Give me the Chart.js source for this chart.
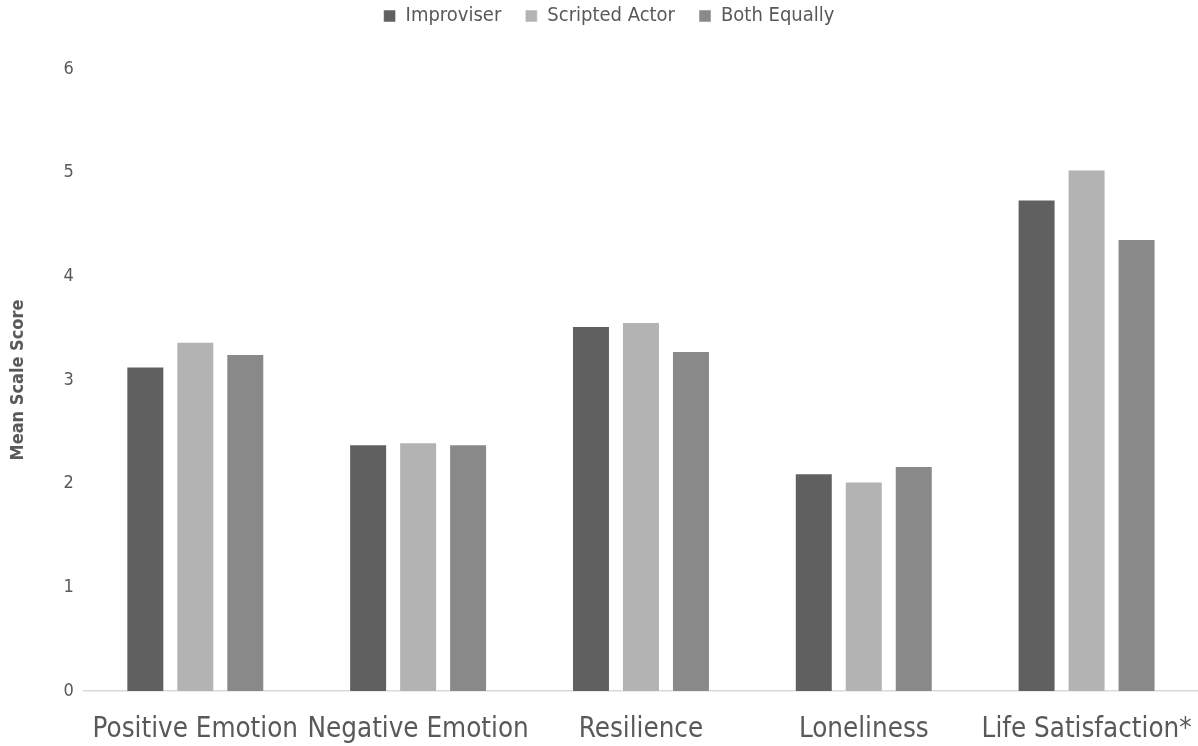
<!DOCTYPE html>
<html>
<head>
<meta charset="utf-8">
<script src="https://cdn.jsdelivr.net/npm/chart.js@4/dist/chart.umd.min.js"></script>
<style>
  html, body { margin: 0; padding: 0; background: #ffffff; }
  #wrap { width: 1198px; height: 746px; position: relative; }
</style>
</head>
<body>
<div id="wrap"><canvas id="chart" width="1198" height="746"></canvas></div>
<script>
// Mean scale scores by performer type
const categories = ["Positive Emotion", "Negative Emotion", "Resilience", "Loneliness", "Life Satisfaction*"];
const improviser = [3.13, 2.38, 3.52, 2.10, 4.74];
const scriptedActor = [3.37, 2.40, 3.56, 2.02, 5.03];
const bothEqually = [3.25, 2.38, 3.28, 2.17, 4.36];
const seriesNames = ["Improviser", "Scripted Actor", "Both Equally"];
const yTicks = [0, 1, 2, 3, 4, 5, 6];

const colors = ["#606060", "#b3b3b3", "#898989"];
const values = [improviser, scriptedActor, bothEqually];
const FONT = "'Liberation Sans Narrow', 'DejaVu Sans Condensed', 'Open Sans', sans-serif";

const datasets = seriesNames.map((name, i) => ({
  label: name,
  data: values[i],
  backgroundColor: colors[i],
  borderColor: "rgba(255,255,255,0.5)",
  borderWidth: 1,
  categoryPercentage: 0.673,
  barPercentage: 0.76
}));

// Leave extra room between the legend and the plot area
const legendGap = {
  id: "legendGap",
  beforeInit(chart) {
    const fit = chart.legend.fit;
    chart.legend.fit = function () {
      fit.call(this);
      this.height += 33;
    };
  }
};

new Chart(document.getElementById("chart"), {
  type: "bar",
  data: { labels: categories, datasets },
  plugins: [legendGap],
  options: {
    responsive: false,
    animation: false,
    layout: { padding: { top: -18, right: -20, left: 0, bottom: -22 } },
    plugins: {
      legend: {
        position: "top",
        labels: {
          boxWidth: 12,
          boxHeight: 12,
          padding: 24,
          color: "#595959",
          font: { family: FONT, size: 20 }
        }
      },
      tooltip: { enabled: false }
    },
    scales: {
      x: {
        // let the plot run to the right edge; the last label still fits its slot
        afterFit: (scale) => { scale.paddingRight = 0; scale.paddingLeft = 0; },
        grid: { display: false, drawTicks: false },
        border: { display: true, color: "#d9d9d9", width: 1.5 },
        ticks: {
          color: "#595959",
          padding: 22,
          maxRotation: 0,
          autoSkip: false,
          font: { family: FONT, size: 27.5 }
        }
      },
      y: {
        min: 0,
        max: 6,
        afterBuildTicks: (axis) => { axis.ticks = yTicks.map(v => ({ value: v })); },
        grid: { display: false, drawTicks: false },
        border: { display: false },
        title: {
          display: true,
          text: "Mean Scale Score",
          color: "#595959",
          padding: { top: 8, bottom: 24 },
          font: { family: FONT, size: 18, weight: "bold" }
        },
        ticks: {
          color: "#595959",
          padding: 10,
          font: { family: FONT, size: 18 }
        }
      }
    }
  }
});
</script>
</body>
</html>
